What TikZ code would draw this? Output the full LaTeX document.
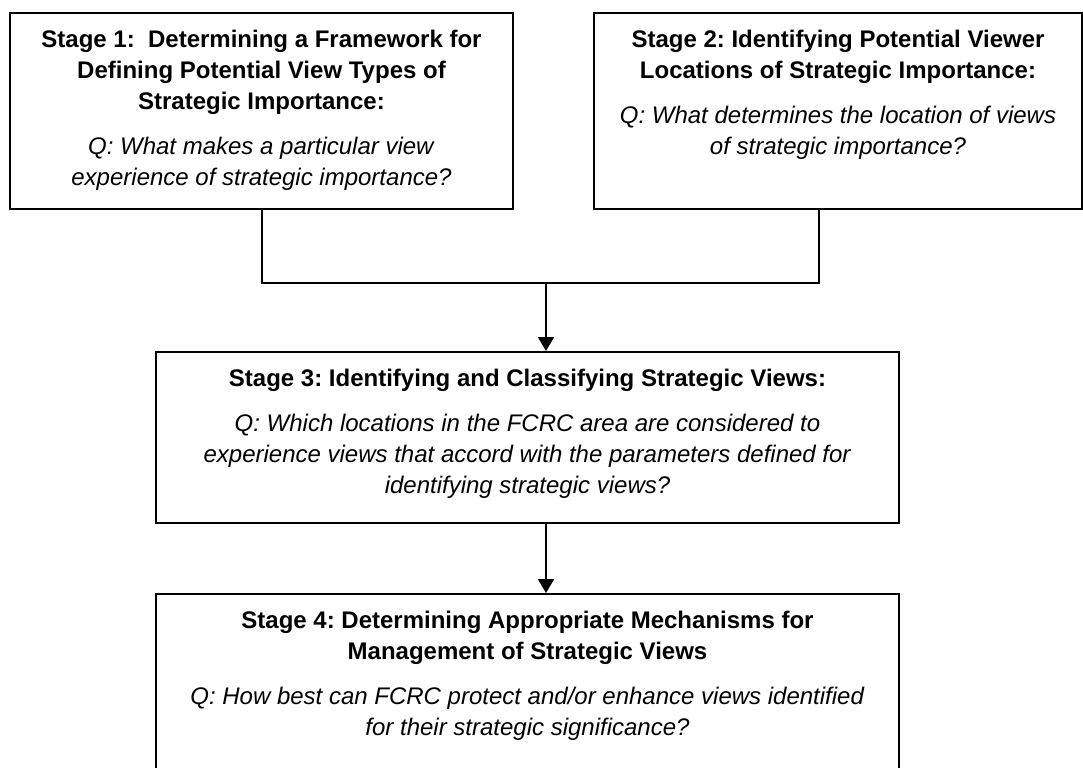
\documentclass[tikz,border=0pt]{standalone}
\usepackage{fontspec}
\setmainfont{Liberation Sans}
\frenchspacing
\usetikzlibrary{arrows.meta,positioning}
\tikzset{
  >={Triangle[width=8pt,length=7pt]},
  stagebox/.style={rectangle,draw,line width=1pt,inner sep=0pt},
  stagetext/.style={inner sep=0pt,align=center,
                    font=\fontsize{12}{15.5}\selectfont},
  link/.style={line width=1pt},
  arr/.style={->,line width=1pt},
}

\begin{document}
\begin{tikzpicture}[x=0.5pt,y=-0.5pt]
    \useasboundingbox (0,0) rectangle (1083,767);
    \clip (0,0) rectangle (1083,767);

    % the four stage frames
    \node[stagebox,minimum width=251.5pt,minimum height=98pt]   (s1) at (261.5,111) {};
    \node[stagebox,minimum width=244pt,minimum height=98pt]     (s2) at (838,111)   {};
    \node[stagebox,minimum width=371.5pt,minimum height=85.5pt] (s3) at (527.5,437.5) {};
    \node[stagebox,minimum width=371.5pt,minimum height=100pt,anchor=north] (s4) at (527.5,593) {};

    % stage headings and questions
    \node[stagetext,below=8.7pt of s1.north] (t1) {%
      \textbf{Stage 1:\ \ Determining a Framework for}\\
      \textbf{Defining Potential View Types of}\\
      \textbf{Strategic Importance:}\\[7pt]
      \textit{Q: What makes a particular view}\\
      \textit{experience of strategic importance?}};
    \node[stagetext,below=8.7pt of s2.north] (t2) {%
      \textbf{Stage 2: Identifying Potential Viewer}\\
      \textbf{Locations of Strategic Importance:}\\[7pt]
      \textit{Q: What determines the location of views}\\
      \textit{of strategic importance?}};
    \node[stagetext,below=8.7pt of s3.north] (t3) {%
      \textbf{Stage 3: Identifying and Classifying Strategic Views:}\\[7pt]
      \textit{Q: Which locations in the FCRC area are considered to}\\
      \textit{experience views that accord with the parameters defined for}\\
      \textit{identifying strategic views?}};
    \node[stagetext,below=8.7pt of s4.north] (t4) {%
      \textbf{Stage 4: Determining Appropriate Mechanisms for}\\
      \textbf{Management of Strategic Views}\\[7pt]
      \textit{Q: How best can FCRC protect and/or enhance views identified}\\
      \textit{for their strategic significance?}};

    % joining stages 1 and 2, then down the chain
    \coordinate (join) at (546,283);
    \draw[link] (s1.south) |- (join) -| ([xshift=-9.5pt]s2.south);
    \draw[arr] (join) -- (join |- s3.north);
    \draw[arr] (s3.south -| join) -- (s4.north -| join);
\end{tikzpicture}
\end{document}
